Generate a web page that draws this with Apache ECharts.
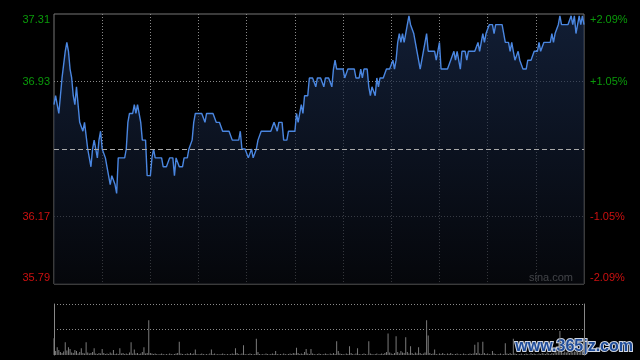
<!DOCTYPE html>
<html>
<head>
<meta charset="utf-8">
<script src="https://cdn.jsdelivr.net/npm/echarts@6/dist/echarts.min.js"></script>
<style>
html,body{margin:0;padding:0;background:#000;}
#chart{width:640px;height:360px;}
</style>
</head>
<body>
<div id="chart"></div>
<script>
// ---- data ----
const prevClose = 36.55;
const priceTicks = [35.79, 36.17, 36.93, 37.31];
const pctLabels = ['-2.09%', '-1.05%', '+1.05%', '+2.09%'];
const prices = [
36.80,36.85,36.80,36.75,36.85,36.95,36.95,37.10,37.15,37.10,
37.00,36.95,36.85,36.80,36.90,36.80,36.70,36.70,36.65,36.70,
36.70,36.55,36.50,36.45,36.55,36.60,36.60,36.50,36.60,36.65,
36.55,36.55,36.50,36.45,36.45,36.35,36.40,36.40,36.35,36.30,
36.50,36.50,36.50,36.50,36.50,36.55,36.70,36.75,36.75,36.75,
36.80,36.75,36.80,36.80,36.70,36.60,36.60,36.60,36.40,36.40,
36.40,36.50,36.55,36.50,36.50,36.50,36.50,36.50,36.45,36.45,
36.45,36.45,36.50,36.50,36.50,36.40,36.50,36.50,36.45,36.45,
36.45,36.50,36.50,36.50,36.55,36.55,36.60,36.70,36.75,36.75,
36.75,36.75,36.75,36.75,36.70,36.75,36.75,36.75,36.75,36.75,
36.75,36.70,36.70,36.70,36.70,36.65,36.65,36.65,36.65,36.65,
36.65,36.60,36.60,36.60,36.60,36.60,36.65,36.55,36.55,36.55,
36.55,36.50,36.50,36.55,36.50,36.50,36.55,36.60,36.60,36.65,
36.65,36.65,36.65,36.65,36.65,36.65,36.65,36.70,36.70,36.65,
36.70,36.70,36.70,36.60,36.60,36.60,36.65,36.65,36.65,36.65,
36.65,36.75,36.70,36.75,36.80,36.75,36.85,36.85,36.85,36.95,
36.95,36.95,36.95,36.90,36.95,36.95,36.95,36.95,36.90,36.95,
36.95,36.95,36.95,36.90,37.00,37.05,37.00,37.00,37.00,37.00,
37.00,36.95,36.95,37.00,37.00,37.00,37.00,37.00,36.95,36.95,
36.95,37.00,36.95,37.00,37.00,37.00,36.90,36.85,36.90,36.90,
36.85,36.95,36.90,36.95,36.95,36.95,36.95,37.00,37.00,37.00,
37.00,37.05,37.00,37.05,37.15,37.20,37.15,37.20,37.15,37.20,
37.25,37.30,37.25,37.25,37.20,37.20,37.10,37.05,37.00,37.00,
37.10,37.10,37.20,37.10,37.10,37.10,37.10,37.10,37.05,37.10,
37.15,37.00,37.00,37.00,37.00,37.00,37.00,37.05,37.05,37.10,
37.05,37.10,37.10,37.00,37.10,37.10,37.10,37.05,37.10,37.10,
37.10,37.10,37.10,37.10,37.15,37.10,37.10,37.20,37.15,37.20,
37.20,37.25,37.25,37.25,37.20,37.25,37.25,37.25,37.25,37.25,
37.25,37.15,37.15,37.15,37.10,37.15,37.10,37.05,37.05,37.10,
37.05,37.05,37.00,37.00,37.00,37.05,37.05,37.05,37.05,37.10,
37.10,37.10,37.15,37.10,37.10,37.15,37.15,37.15,37.15,37.15,
37.20,37.15,37.20,37.20,37.25,37.30,37.25,37.25,37.25,37.25,
37.25,37.25,37.30,37.25,37.30,37.20,37.20,37.30,37.25,37.30,
37.25
];
const volumes = [
33,8,15,10,6,4,7,25,9,15,
12,5,4,10,8,3,6,13,4,3,
25,5,3,4,6,13,3,2,4,3,
12,4,2,3,2,5,3,10,2,3,
2,13,3,4,2,3,2,5,25,3,
11,3,4,2,3,6,15,3,4,68,
4,3,2,3,2,1,2,3,2,1,
2,1,3,2,1,2,3,4,26,3,
2,1,2,3,2,4,2,3,11,2,
1,2,3,2,1,2,1,3,11,2,
3,1,2,1,2,3,2,1,2,1,
2,3,2,13,4,2,1,3,19,2,
1,2,3,2,1,2,32,6,2,1,
2,1,3,2,1,2,3,2,8,2,
1,2,1,3,2,1,2,3,2,4,
3,14,4,2,3,2,6,12,3,2,
12,3,2,1,2,3,2,1,2,3,
2,1,3,2,4,2,27,8,3,2,
2,1,3,2,17,4,2,1,3,13,
2,1,2,3,2,1,27,3,2,1,
2,3,1,2,3,2,4,6,42,5,
3,2,4,37,6,3,8,5,4,35,
6,3,17,4,2,5,3,15,4,2,
3,5,68,38,4,2,3,11,2,1,
3,2,4,2,1,3,2,4,2,1,
2,3,1,2,1,3,2,1,2,3,
2,3,20,4,25,3,2,26,4,2,
3,2,1,8,3,2,1,2,3,1,
2,23,3,2,4,2,32,3,2,1,
2,3,1,2,3,2,1,4,2,3,
2,1,3,2,4,3,2,5,3,2,
4,3,6,5,8,47,6,4,7,5,
6,4,8,5,7,6,9,5,7,8,
10
];
// time categories: 09:30-12:00, 13:01-16:00
const times = [];
function pad(n){return (n<10?'0':'')+n;}
for (let m = 9*60+30; m <= 12*60; m++) times.push(pad(Math.floor(m/60))+':'+pad(m%60));
for (let m = 13*60+1; m <= 16*60; m++) times.push(pad(Math.floor(m/60))+':'+pad(m%60));

const GREEN = '#0a9a0a', RED = '#cc1010';
const FONT = '"Liberation Sans", Arial, sans-serif';
const gridColor = '#8a8a8a';

const chart = echarts.init(document.getElementById('chart'), null, {renderer: 'canvas'});

function priceLabel(v) {
  const s = v.toFixed(2);
  if (Math.abs(v - priceTicks[priceTicks.length-1]) < 1e-6) return '{gt|' + s + '}';
  if (Math.abs(v - priceTicks[0]) < 1e-6) return '{rb|' + s + '}';
  return '{' + (v > prevClose ? 'g' : 'r') + '|' + s + '}';
}
function pctLabel(v) {
  let idx = 0;
  priceTicks.forEach((t, k) => { if (Math.abs(t - v) < 1e-6) idx = k; });
  const s = pctLabels[idx];
  if (idx === priceTicks.length-1) return '{gt|' + s + '}';
  if (idx === 0) return '{rb|' + s + '}';
  return '{' + (v > prevClose ? 'g' : 'r') + '|' + s + '}';
}
const richStyles = {
  g: {color: GREEN, fontSize: 11, fontFamily: FONT},
  r: {color: RED, fontSize: 11, fontFamily: FONT},
  gt: {color: GREEN, fontSize: 11, fontFamily: FONT, padding: [12,0,0,0]},
  rb: {color: RED, fontSize: 11, fontFamily: FONT, padding: [0,0,12,0]}
};

chart.setOption({
  backgroundColor: '#000',
  animation: false,
  grid: [
    {left: 54, right: 56, top: 14, height: 270, show: true, borderColor: '#777', borderWidth: 1, backgroundColor: 'transparent'},
    {left: 54, right: 56, top: 304, height: 51}
  ],
  xAxis: [
    {type: 'category', gridIndex: 0, data: times, boundaryGap: false,
     axisLine: {show: false}, axisTick: {show: false}, axisLabel: {show: false},
     splitLine: {show: true, interval: function(i){ return i > 0 && i < times.length-1 && i % 30 === 0; },
                 lineStyle: {color: gridColor, type: [1,2], width: 1}}},
    {type: 'category', gridIndex: 1, data: times, boundaryGap: false,
     axisLine: {show: false}, axisTick: {show: false}, axisLabel: {show: false}, splitLine: {show: false}}
  ],
  yAxis: [
    {type: 'value', gridIndex: 0, position: 'left', min: priceTicks[0], max: priceTicks[priceTicks.length-1],
     axisLine: {show: false},
     axisTick: {show: false, customValues: [36.17, 36.93]},
     axisLabel: {show: true, customValues: priceTicks, margin: 4, formatter: priceLabel, rich: richStyles},
     splitLine: {show: true, lineStyle: {color: gridColor, type: [1,2], width: 1}}},
    {type: 'value', gridIndex: 0, position: 'right', min: priceTicks[0], max: priceTicks[priceTicks.length-1],
     axisLine: {show: false},
     axisTick: {show: false, customValues: priceTicks},
     axisLabel: {show: true, customValues: priceTicks, margin: 6, formatter: pctLabel, rich: richStyles},
     splitLine: {show: false}},
    {type: 'value', gridIndex: 1, position: 'left', min: 0, max: 100,
     axisLine: {show: true, lineStyle: {color: '#888', width: 1}},
     axisTick: {show: false, customValues: [50, 100]},
     axisLabel: {show: false},
     splitLine: {show: true, lineStyle: {color: gridColor, type: [1,2], width: 1}}},
    {type: 'value', gridIndex: 1, position: 'right', min: 0, max: 100,
     axisLine: {show: true, lineStyle: {color: '#888', width: 1}},
     axisTick: {show: false}, axisLabel: {show: false}, splitLine: {show: false}}
  ],
  series: [
    {type: 'line', xAxisIndex: 0, yAxisIndex: 0, data: prices, showSymbol: false, symbol: 'none',
     lineStyle: {color: '#4a86e0', width: 1.4},
     areaStyle: {color: new echarts.graphic.LinearGradient(0,0,0,1,[
        {offset: 0, color: 'rgba(26,44,78,0.95)'},
        {offset: 1, color: 'rgba(8,10,16,0.95)'}])},
     markLine: {silent: true, symbol: 'none', label: {show: false},
       lineStyle: {color: '#aaaaaa', type: [5,3], width: 1},
       data: [{yAxis: prevClose}]}
    },
    {type: 'bar', xAxisIndex: 1, yAxisIndex: 2, data: volumes, barWidth: 1,
     itemStyle: {color: '#7a7a7a'}}
  ],
  graphic: [
    {type: 'text', right: 67, top: 272, style: {text: 'sina.com', font: '11px ' + FONT, fill: '#b0b0b0'}},
    {type: 'text', right: 6, top: 338, style: {text: 'www.365jz.com', font: 'bold 16px ' + FONT,
      fill: '#1f4c99', stroke: '#cfd6e2', lineWidth: 2}}
  ]
});
</script>
</body>
</html>
